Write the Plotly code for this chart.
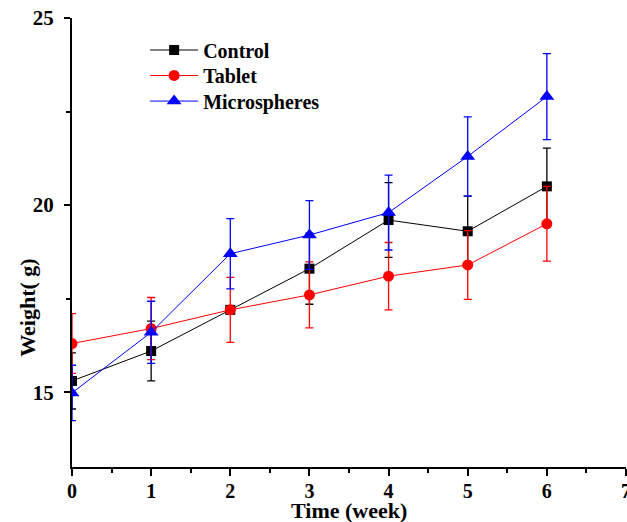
import plotly.graph_objects as go

weeks = [0, 1, 2, 3, 4, 5, 6]
control = [15.3, 16.1, 17.2, 18.3, 19.6, 19.3, 20.5]
control_err = [0.75, 0.8, 0.05, 0.95, 1.0, 0.94, 1.02]
tablet = [16.3, 16.7, 17.2, 17.6, 18.1, 18.4, 19.5]
tablet_err = [0.8, 0.83, 0.87, 0.88, 0.9, 0.92, 1.0]
micro = [14.98, 16.6, 18.7, 19.2, 19.8, 21.3, 22.9]
micro_err = [0.74, 0.83, 0.94, 0.92, 1.0, 1.06, 1.15]

FONT = "Liberation Serif"

fig = go.Figure()
series = [
    ("Control", control, control_err, "#000000", "square", 10, "legend", 0.9287),
    ("Tablet", tablet, tablet_err, "#FF0000", "circle", 11, "legend2", 0.872),
    ("Microspheres", micro, micro_err, "#0000FF", "triangle-up", 13, "legend3", 0.815),
]
legend_font = dict(family=FONT, size=20, color="black", weight="bold")
legends = {}
for name, ys, errs, col, sym, sz, lg, ly in series:
    fig.add_trace(go.Scatter(
        x=weeks, y=ys, name=name, mode="lines+markers", legend=lg,
        line=dict(color=col, width=1),
        marker=dict(symbol=sym, size=sz, color=col),
        error_y=dict(type="data", array=errs, visible=True, color=col,
                     thickness=1.3, width=4),
    ))
    legends[lg] = dict(x=0.132, y=ly, xanchor="left", yanchor="middle",
                       bgcolor="rgba(0,0,0,0)", font=legend_font,
                       itemwidth=48)

fig.update_layout(
    width=627, height=522,
    margin=dict(l=72, r=1, t=18, b=55),
    paper_bgcolor="white", plot_bgcolor="white",
    showlegend=True,
    **legends,
    xaxis=dict(range=[0, 7], tickvals=[0, 1, 2, 3, 4, 5, 6, 7],
               automargin=False, ticklabeloverflow="allow",
               showgrid=False, zeroline=False, showline=True,
               linecolor="black", linewidth=2,
               ticks="outside", ticklen=7, tickwidth=2, tickcolor="black",
               ticklabelstandoff=-2,
               minor=dict(dtick=0.5, ticks="outside", ticklen=4, tickwidth=2,
                          tickcolor="black", showgrid=False),
               tickfont=dict(family=FONT, size=20, color="black", weight="bold")),
    yaxis=dict(range=[13, 25], tickvals=[15, 20, 25],
               automargin=False,
               showgrid=False, zeroline=False, showline=True,
               linecolor="black", linewidth=2,
               ticks="outside", ticklen=6, tickwidth=2, tickcolor="black",
               ticklabelstandoff=6,
               minor=dict(tickvals=[17.5, 22.5], ticks="outside", ticklen=4,
                          tickwidth=2, tickcolor="black", showgrid=False),
               tickfont=dict(family=FONT, size=21, color="black", weight="bold")),
    annotations=[
        dict(text="Weight( g)", xref="paper", yref="paper",
             x=-0.081, y=0.355, xanchor="center", yanchor="middle",
             textangle=-90, showarrow=False,
             font=dict(family=FONT, size=22, color="black", weight="bold")),
        dict(text="Time (week)", xref="paper", yref="paper",
             x=0.5, y=-0.097, xanchor="center", yanchor="middle",
             showarrow=False,
             font=dict(family=FONT, size=22, color="black", weight="bold")),
    ],
)

fig.write_html(
    "out.html",
    config={"displayModeBar": False},
    post_script="document.body.style.margin='0';document.body.style.overflow='hidden';",
)
